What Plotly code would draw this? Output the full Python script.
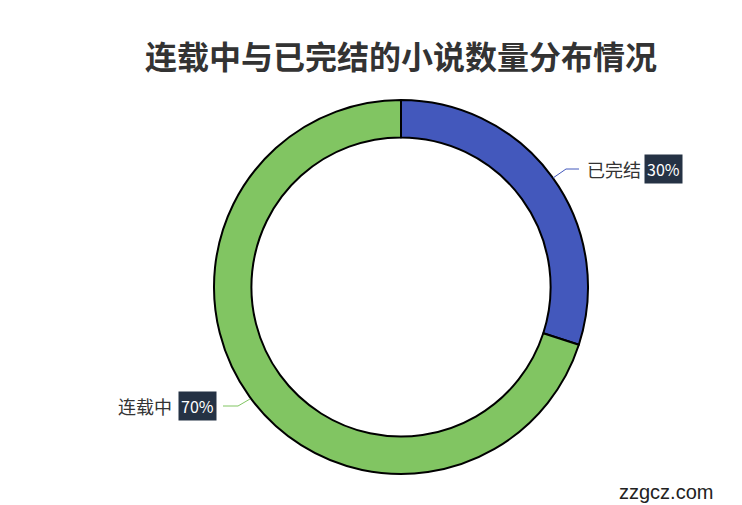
import plotly.graph_objs as go

# Data
status_labels = ["已完结", "连载中"]
status_values = [30, 70]
status_colors = ["#4358bc", "#81c562"]

# page is drawn with the default 8px body margin, so the figure is shifted by that much
OFF = 8
W, H = 742 - OFF, 505 - OFF
cx, cy, r = 401, 287, 187   # donut centre / radius in page pixels


def px2paper(x, y):
    return (x - OFF) / W, 1 - (y - OFF) / H


fig = go.Figure(data=[go.Pie(
    labels=status_labels,
    values=status_values,
    hole=0.8,
    sort=False,
    direction="clockwise",
    rotation=0,
    textinfo="none",
    hoverinfo="label+percent",
    marker=dict(colors=status_colors, line=dict(color="#000000", width=2)),
    domain=dict(x=[px2paper(cx - r, 0)[0], px2paper(cx + r, 0)[0]],
                y=[px2paper(0, cy + r)[1], px2paper(0, cy - r)[1]]),
    showlegend=False,
)])

# leader lines + label positions (page pixels), one per slice
leader_pts = {
    "已完结": [(553, 178), (566, 169), (579, 169)],
    "连载中": [(250, 399), (238, 406), (223, 406)],
}
total = sum(status_values)
shapes = []
annotations = []
for lab, val, col in zip(status_labels, status_values, status_colors):
    pts = [px2paper(*pt) for pt in leader_pts[lab]]
    shapes.append(dict(
        type="path", xref="paper", yref="paper",
        path="M {} {} L {} {} L {} {}".format(pts[0][0], pts[0][1], pts[1][0], pts[1][1], pts[2][0], pts[2][1]),
        line=dict(color=col, width=1),
    ))
    pct = "{:.0f}%".format(val / total * 100)
    ex, ey = leader_pts[lab][2]
    if ex > cx:
        tx, ty = px2paper(ex + 6, ey)
        annotations.append(dict(x=tx, y=ty, xref="paper", yref="paper", text=lab, showarrow=False,
                                xanchor="left", yanchor="middle", font=dict(size=18, color="#333333")))
        annotations.append(dict(x=tx, y=ty, xref="paper", yref="paper", text=pct, showarrow=False,
                                xanchor="left", yanchor="middle", xshift=59, bgcolor="#253244", borderpad=2,
                                font=dict(size=16, color="#ffffff")))
    else:
        tx, ty = px2paper(ex - 6, ey)
        annotations.append(dict(x=tx, y=ty, xref="paper", yref="paper", text=pct, showarrow=False,
                                xanchor="right", yanchor="middle", bgcolor="#253244", borderpad=2,
                                font=dict(size=16, color="#ffffff")))
        annotations.append(dict(x=tx, y=ty, xref="paper", yref="paper", text=lab, showarrow=False,
                                xanchor="right", yanchor="middle", xshift=-43,
                                font=dict(size=18, color="#333333")))

# Watermark
wx, wy = px2paper(715, 492)
annotations.append(dict(x=wx, y=wy, xref="paper", yref="paper", text="zzgcz.com",
                        showarrow=False, xanchor="right", yanchor="middle",
                        font=dict(size=20, color="#222222", family="Liberation Sans, Arial, sans-serif")))

tx, ty = px2paper(401, 58)
fig.update_layout(
    width=W, height=H,
    margin=dict(l=0, r=0, t=0, b=0),
    paper_bgcolor="#ffffff",
    title=dict(text="<b>连载中与已完结的小说数量分布情况</b>", x=tx, xanchor="center",
               y=ty, yanchor="middle", font=dict(size=32, color="#333333")),
    font=dict(family="Noto Sans CJK SC, Noto Sans, sans-serif"),
    shapes=shapes,
    annotations=annotations,
)

fig.write_html("out.html")
